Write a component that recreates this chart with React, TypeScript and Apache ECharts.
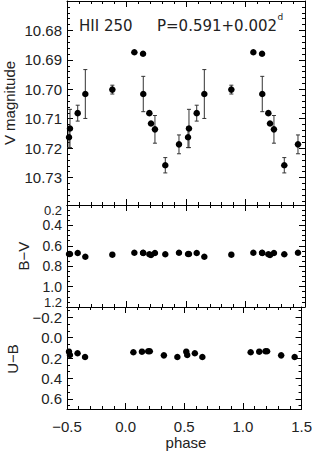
import React, { useEffect, useRef } from 'react';
import * as echarts from 'echarts';

// Base (folded) observations, phase in [-0.5, 0.5)
const phase = [-0.483, -0.475, -0.41, -0.346, -0.119, 0.066, 0.139, 0.141, 0.192, 0.206, 0.239, 0.326, 0.441];
const vMag = [10.7163, 10.7133, 10.7081, 10.7016, 10.7001, 10.6874, 10.6879, 10.7016, 10.7081, 10.7116, 10.7136, 10.7258, 10.7187];
const vErr = [0.0035, 0.0065, 0.0027, 0.0083, 0.0015, 0, 0, 0.006, 0, 0, 0.0047, 0.0026, 0.0032];
const bv = [0.68, 0.68, 0.671, 0.707, 0.687, 0.668, 0.668, 0.671, 0.683, 0.69, 0.671, 0.683, 0.668];
const ub: (number | null)[] = [0.138, 0.171, 0.154, 0.19, null, 0.144, 0.138, null, 0.134, 0.134, null, 0.174, 0.19];

const vTicks = [10.68, 10.69, 10.7, 10.71, 10.72, 10.73];
const bvTicks = [0.4, 0.6, 0.8, 1.0];
const bvEndTicks = [0.2, 1.2]; // drawn at the panel borders, nudged inside
const ubTicks = [-0.2, 0, 0.2, 0.4, 0.6];

const FONT = 'Liberation Sans, Arial, sans-serif';
const TXT = '#222';

const fmt = (v: number, d: number) => v.toFixed(d).replace('-', '\u2212');

// phase-folded copies: each point also shown at phase + 1
const cycles = [0, 1];
function folded(vals: (number | null)[]) {
  const out: number[][] = [];
  cycles.forEach((c) => {
    phase.forEach((p, i) => {
      const v = vals[i];
      if (v !== null && v !== undefined) out.push([p + c, v]);
    });
  });
  return out;
}
function foldedErr() {
  const out: number[][] = [];
  cycles.forEach((c) => {
    phase.forEach((p, i) => {
      if (vErr[i] > 0) out.push([p + c, vMag[i] - vErr[i], vMag[i] + vErr[i]]);
    });
  });
  return out;
}

const GRIDS = [
  { left: 67, right: 10, top: 1, height: 204 },
  { left: 67, right: 10, top: 205, height: 102 },
  { left: 67, right: 10, top: 307, height: 102 },
];

function xAxisCfg(gridIndex: number, position: string, showLabel: boolean) {
  return {
    type: 'value',
    gridIndex,
    position,
    min: -0.5,
    max: 1.5,
    interval: 0.5,
    axisLine: { show: true, onZero: false, lineStyle: { color: '#000', width: 1 } },
    axisTick: { show: true, inside: true, length: 6, lineStyle: { color: '#000', width: 1 } },
    minorTick: { show: true, splitNumber: 5, length: 3, lineStyle: { color: '#000', width: 1 } },
    splitLine: { show: false },
    minorSplitLine: { show: false },
    axisLabel: {
      show: showLabel,
      margin: 10,
      fontSize: 15,
      fontFamily: FONT,
      color: TXT,
      interval: 0,
      showMinLabel: true,
      showMaxLabel: true,
      formatter: (v: number) => fmt(v, 1),
    },
  };
}

function yAxisCfg(gridIndex: number, position: string, showLabel: boolean, cfg: any) {
  return {
    type: 'value',
    gridIndex,
    position,
    inverse: true,
    min: cfg.min,
    max: cfg.max,
    interval: cfg.interval,
    axisLine: { show: true, onZero: false, lineStyle: { color: '#000', width: 1 } },
    axisTick: {
      show: true,
      inside: true,
      length: 6,
      customValues: cfg.ticks,
      lineStyle: { color: '#000', width: 1 },
    },
    minorTick: { show: true, splitNumber: cfg.minor, length: 3, lineStyle: { color: '#000', width: 1 } },
    splitLine: { show: false },
    minorSplitLine: { show: false },
    axisLabel: {
      show: showLabel,
      margin: 5,
      fontSize: cfg.fs,
      fontFamily: FONT,
      color: TXT,
      customValues: cfg.ticks,
      formatter: (v: number) => fmt(v, cfg.dec),
    },
  };
}

const Y_CFG = [
  { min: 10.67, max: 10.7393, interval: 0.01, ticks: vTicks, minor: 5, dec: 2, fs: 15 },
  { min: 0.2, max: 1.2, interval: 0.2, ticks: bvTicks, minor: 4, dec: 1, fs: 14 },
  { min: -0.3, max: 0.7, interval: undefined, ticks: ubTicks, minor: 3, dec: 1, fs: 15 },
];

export default function App() {
  const ref = useRef<HTMLDivElement>(null);

  useEffect(() => {
    if (!ref.current) return;
    const chart = echarts.init(ref.current, null, { renderer: 'svg' });

    const xAxis: any[] = [];
    const yAxis: any[] = [];
    GRIDS.forEach((_, g) => {
      xAxis.push(xAxisCfg(g, 'bottom', g === 2));
      xAxis.push(xAxisCfg(g, 'top', false));
      yAxis.push(yAxisCfg(g, 'left', true, Y_CFG[g]));
      yAxis.push(yAxisCfg(g, 'right', false, Y_CFG[g]));
    });

    const dot = { color: '#000', opacity: 1 };
    const g2 = GRIDS[1];

    const option: any = {
      animation: false,
      backgroundColor: '#fff',
      grid: GRIDS,
      xAxis,
      yAxis,
      series: [
        {
          type: 'custom',
          xAxisIndex: 0,
          yAxisIndex: 0,
          z: 1,
          data: foldedErr(),
          encode: { x: 0, y: [1, 2] },
          renderItem: (params: any, api: any) => {
            const x = api.value(0);
            const p1 = api.coord([x, api.value(1)]);
            const p2 = api.coord([x, api.value(2)]);
            const w = 2;
            const st = { stroke: '#333', lineWidth: 1 };
            return {
              type: 'group',
              children: [
                { type: 'line', shape: { x1: p1[0], y1: p1[1], x2: p2[0], y2: p2[1] }, style: st },
                { type: 'line', shape: { x1: p1[0] - w, y1: p1[1], x2: p1[0] + w, y2: p1[1] }, style: st },
                { type: 'line', shape: { x1: p2[0] - w, y1: p2[1], x2: p2[0] + w, y2: p2[1] }, style: st },
              ],
            };
          },
        },
        { type: 'scatter', xAxisIndex: 0, yAxisIndex: 0, z: 3, symbolSize: 6.5, itemStyle: dot, data: folded(vMag) },
        { type: 'scatter', xAxisIndex: 2, yAxisIndex: 2, z: 3, symbolSize: 6.5, itemStyle: dot, data: folded(bv) },
        { type: 'scatter', xAxisIndex: 4, yAxisIndex: 4, z: 3, symbolSize: 6.5, itemStyle: dot, data: folded(ub) },
      ],
      graphic: [
        {
          type: 'text', x: 62, y: g2.top + 5.5,
          style: { text: fmt(bvEndTicks[0], 1), fontSize: 13, fontFamily: FONT, fill: TXT, align: 'right', verticalAlign: 'middle' },
        },
        {
          type: 'text', x: 62, y: g2.top + g2.height - 5,
          style: { text: fmt(bvEndTicks[1], 1), fontSize: 13, fontFamily: FONT, fill: TXT, align: 'right', verticalAlign: 'middle' },
        },
        {
          type: 'text', x: 79, y: 26,
          style: { text: 'HII 250', fontSize: 15, fontFamily: 'DejaVu Sans', fill: TXT, align: 'left', verticalAlign: 'middle' },
        },
        {
          type: 'text', x: 157, y: 26,
          style: { text: 'P=0.591+0.002', fontSize: 15, fontFamily: 'DejaVu Sans', fill: TXT, align: 'left', verticalAlign: 'middle' },
        },
        {
          type: 'text', x: 277.5, y: 17,
          style: { text: 'd', fontSize: 9, fontFamily: 'DejaVu Sans', fill: TXT, align: 'left', verticalAlign: 'middle' },
        },
        {
          type: 'text', x: 9, y: 103, rotation: Math.PI / 2,
          style: { text: 'V magnitude', fontSize: 15, fontFamily: FONT, fill: TXT, align: 'center', verticalAlign: 'middle' },
        },
        {
          type: 'text', x: 23.5, y: 256, rotation: Math.PI / 2,
          style: { text: 'B\u2212V', fontSize: 15, fontFamily: FONT, fill: TXT, align: 'center', verticalAlign: 'middle' },
        },
        {
          type: 'text', x: 12.5, y: 359, rotation: Math.PI / 2,
          style: { text: 'U\u2212B', fontSize: 15, fontFamily: FONT, fill: TXT, align: 'center', verticalAlign: 'middle' },
        },
        {
          type: 'text', x: 186, y: 442,
          style: { text: 'phase', fontSize: 15, fontFamily: FONT, fill: TXT, align: 'center', verticalAlign: 'middle' },
        },
      ],
    };

    chart.setOption(option);
    return () => chart.dispose();
  }, []);

  return <div ref={ref} style={{ position: 'absolute', left: 0, top: 0, width: 315, height: 451 }} />;
}
